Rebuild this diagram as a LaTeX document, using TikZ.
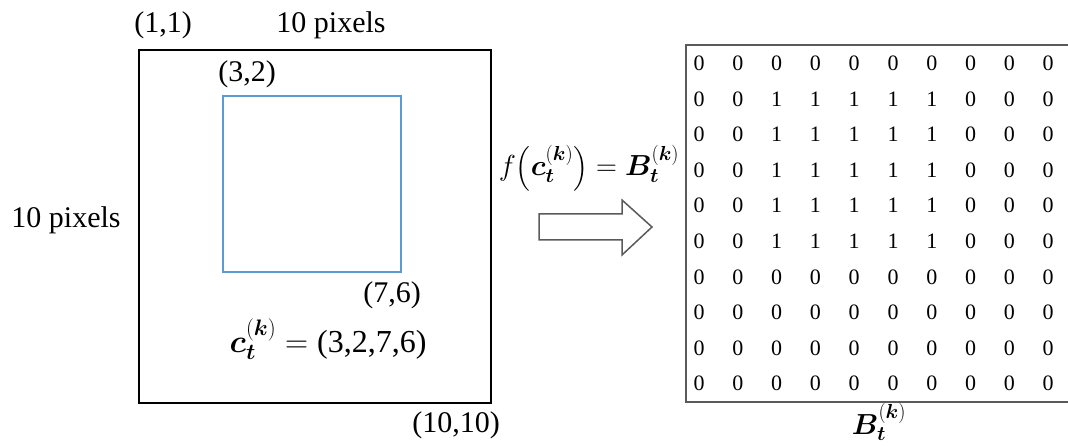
\documentclass[tikz,border=0pt]{standalone}
\usepackage{fix-cm}
\usepackage{fontspec}
\usepackage{amsmath}
\usepackage{bm}
\setmainfont{Liberation Serif}
\definecolor{boxblue}{RGB}{91,155,213}
\definecolor{framegray}{RGB}{90,90,90}
\begin{document}
\begin{tikzpicture}[x=1pt,y=-1pt,
  lbl/.style={inner sep=0pt,anchor=base,font=\fontsize{30}{36}\selectfont},
  mlbl/.style={inner sep=0pt,anchor=base,font=\fontsize{29}{34}\selectfont},
  digit/.style={inner sep=0pt,anchor=base,font=\fontsize{22}{26}\selectfont},
  outerbox/.style={draw=black,line width=1.5pt,inner sep=0pt},
  innerbox/.style={draw=boxblue,line width=1.2pt,inner sep=0pt},
  bigarrow/.style={draw=framegray,fill=white,line width=1.5pt,line join=miter}]
\useasboundingbox (0,0) rectangle (1068,446);
% left image frame
\node[outerbox,minimum width=352pt,minimum height=353pt] (img) at (315,226.5) {};
\node[innerbox,minimum width=178pt,minimum height=176pt] (roi) at (312,184) {};
% labels
\node[lbl] (p11) at (163,33) {(1,1)};
\node[lbl] (wtop) at (331,33) {10 pixels};
\node[lbl] (wleft) at (66,228) {10 pixels};
\node[lbl] (p32) at (247,82) {(3,2)};
\node[lbl] (p76) at (392,303) {(7,6)};
\node[lbl] (p1010) at (456,432) {(10,10)};
\node[mlbl,font=\fontsize{32}{38}\selectfont] (cdef) at (328,352) {$\bm{c}_{\bm{t}}^{(\bm{k})}=\text{(3,2,7,6)}$};
% mapping
\node[mlbl] (fmap) at (589,176) {$f\big(\bm{c}_{\bm{t}}^{(\bm{k})}\big)=\bm{B}_{\bm{t}}^{(\bm{k})}$};
\draw[bigarrow] (539,214) -- (622,214) -- (622,200) -- (652,227) -- (622,255) -- (622,240) -- (539,240) -- cycle;
% matrix frame (right side runs off the picture)
\coordinate (mtr) at (1070,45);
\coordinate (mbr) at (1070,402);
\draw[draw=framegray,line width=2.5pt] (mtr) -| (686,402) -- (mbr);
\foreach \r/\row in {1/{0,0,0,0,0,0,0,0,0,0},2/{0,0,1,1,1,1,1,0,0,0},3/{0,0,1,1,1,1,1,0,0,0},4/{0,0,1,1,1,1,1,0,0,0},5/{0,0,1,1,1,1,1,0,0,0},6/{0,0,1,1,1,1,1,0,0,0},7/{0,0,0,0,0,0,0,0,0,0},8/{0,0,0,0,0,0,0,0,0,0},9/{0,0,0,0,0,0,0,0,0,0},10/{0,0,0,0,0,0,0,0,0,0}}{
  \foreach \v [count=\c] in \row {
    \node[digit] (m-\r-\c) at ({699+38.8*(\c-1)},{71+35.5*(\r-1)}) {\v};
  }
}
\node[mlbl] (blabel) at (879,434) {$\bm{B}_{\bm{t}}^{(\bm{k})}$};
\end{tikzpicture}
\end{document}
